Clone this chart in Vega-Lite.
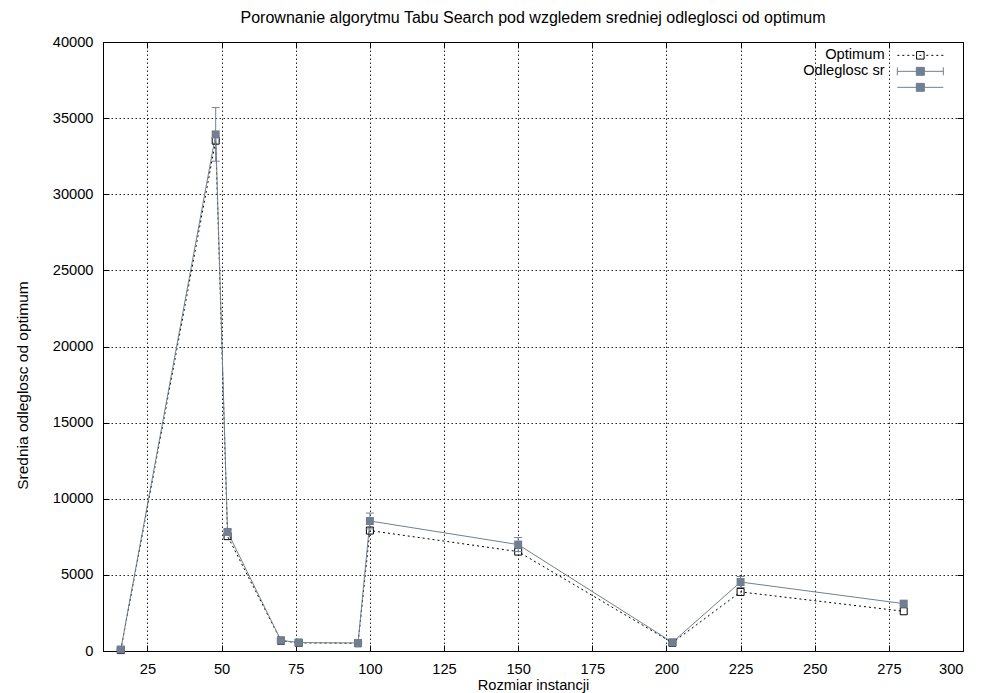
{
  "$schema": "https://vega.github.io/schema/vega-lite/v6.json",
  "width": 860,
  "height": 609,
  "autosize": {"type": "none"},
  "padding": {"left": 103, "top": 42, "right": 18, "bottom": 42},
  "background": "white",
  "title": {
    "text": "Porownanie algorytmu Tabu Search pod wzgledem sredniej odleglosci od optimum",
    "font": "Liberation Sans",
    "fontSize": 16,
    "fontWeight": "normal",
    "color": "black",
    "anchor": "middle",
    "frame": "group",
    "baseline": "alphabetic",
    "offset": -5
  },
  "config": {
    "view": {"stroke": "black", "strokeWidth": 1},
    "font": "Liberation Sans",
    "axis": {
      "labelFont": "Liberation Sans",
      "labelFontSize": 14.67,
      "labelColor": "black",
      "titleFont": "Liberation Sans",
      "titleFontSize": 14.67,
      "titleFontWeight": "normal",
      "titleColor": "black",
      "domain": false,
      "tickColor": "black",
      "tickSize": -6,
      "gridColor": "black",
      "gridDash": [1.5, 2.5],
      "gridOpacity": 0.85
    },
    "legend": {
      "orient": "none",
      "legendX": 806,
      "legendY": 2,
      "labelFont": "Liberation Sans",
      "labelFontSize": 14.67,
      "labelColor": "black",
      "labelAlign": "right",
      "labelOffset": -43,
      "symbolSize": 100,
      "symbolStrokeWidth": 1,
      "rowPadding": 0,
      "padding": 4,
      "fillColor": "white"
    }
  },
  "datasets": {
    "d": [
      {"n": 16, "series": "Optimum", "v": 60},
      {"n": 48, "series": "Optimum", "v": 33520},
      {"n": 52, "series": "Optimum", "v": 7545},
      {"n": 70, "series": "Optimum", "v": 675},
      {"n": 76, "series": "Optimum", "v": 538},
      {"n": 96, "series": "Optimum", "v": 510},
      {"n": 100, "series": "Optimum", "v": 7910},
      {"n": 150, "series": "Optimum", "v": 6528},
      {"n": 202, "series": "Optimum", "v": 540},
      {"n": 225, "series": "Optimum", "v": 3880},
      {"n": 280, "series": "Optimum", "v": 2610},
      {"n": 16, "series": "Odleglosc sr", "v": 100, "lo": 80, "hi": 120},
      {"n": 48, "series": "Odleglosc sr", "v": 33930, "lo": 32170, "hi": 35690},
      {"n": 52, "series": "Odleglosc sr", "v": 7820, "lo": 7650, "hi": 7990},
      {"n": 70, "series": "Odleglosc sr", "v": 703, "lo": 660, "hi": 745},
      {"n": 76, "series": "Odleglosc sr", "v": 551, "lo": 520, "hi": 580},
      {"n": 96, "series": "Odleglosc sr", "v": 525, "lo": 495, "hi": 555},
      {"n": 100, "series": "Odleglosc sr", "v": 8540, "lo": 8020, "hi": 9060},
      {"n": 150, "series": "Odleglosc sr", "v": 6990, "lo": 6530, "hi": 7450},
      {"n": 202, "series": "Odleglosc sr", "v": 571, "lo": 530, "hi": 610},
      {"n": 225, "series": "Odleglosc sr", "v": 4530, "lo": 4170, "hi": 4890},
      {"n": 280, "series": "Odleglosc sr", "v": 3110, "lo": 2990, "hi": 3230}
    ]
  },
  "data": {"name": "d"},
  "resolve": {"axis": {"x": "independent", "y": "independent"}},
  "layer": [
    {
      "transform": [{"filter": "datum.series === 'Optimum'"}],
      "mark": {"type": "line", "strokeWidth": 1, "color": "#000000", "strokeDash": [2, 3]},
      "encoding": {
        "x": {
          "field": "n", "type": "quantitative",
          "scale": {"domain": [10, 300], "nice": false, "zero": false},
          "axis": {
            "orient": "bottom",
            "values": [25, 50, 75, 100, 125, 150, 175, 200, 225, 250, 275, 300],
            "title": "Rozmiar instancji",
            "grid": true,
            "labelPadding": 16,
            "titlePadding": 2
          }
        },
        "y": {
          "field": "v", "type": "quantitative",
          "scale": {"domain": [0, 40000], "nice": false},
          "axis": {
            "orient": "left",
            "values": [0, 5000, 10000, 15000, 20000, 25000, 30000, 35000, 40000],
            "format": "d",
            "title": "Srednia odleglosc od optimum",
            "titleFontSize": 15.5,
            "titleY": 343,
            "grid": true,
            "labelPadding": 16,
            "titlePadding": 22
          }
        }
      }
    },
    {
      "transform": [{"filter": "datum.series === 'Odleglosc sr'"}],
      "mark": {"type": "line", "strokeWidth": 1, "color": "#708090"},
      "encoding": {
        "x": {"field": "n", "type": "quantitative", "scale": {"domain": [10, 300], "nice": false, "zero": false}, "axis": null},
        "y": {"field": "v", "type": "quantitative", "scale": {"domain": [0, 40000], "nice": false}, "axis": null}
      }
    },
    {
      "transform": [{"filter": "datum.series === 'Optimum'"}],
      "mark": {"type": "point", "shape": "square", "size": 49, "filled": false, "stroke": "#000000", "strokeWidth": 1, "opacity": 1},
      "encoding": {
        "x": {"field": "n", "type": "quantitative", "scale": {"domain": [10, 300], "nice": false, "zero": false}, "axis": null},
        "y": {"field": "v", "type": "quantitative", "scale": {"domain": [0, 40000], "nice": false}, "axis": null}
      }
    },
    {
      "transform": [{"filter": "datum.series === 'Odleglosc sr'"}],
      "mark": {"type": "rule", "color": "#708090", "strokeWidth": 1},
      "encoding": {
        "x": {
          "field": "n", "type": "quantitative",
          "scale": {"domain": [10, 300], "nice": false, "zero": false},
          "axis": {"orient": "top", "values": [25, 50, 75, 100, 125, 150, 175, 200, 225, 250, 275, 300], "labels": false, "grid": false, "title": null}
        },
        "y": {
          "field": "lo", "type": "quantitative",
          "scale": {"domain": [0, 40000], "nice": false},
          "axis": {"orient": "right", "values": [0, 5000, 10000, 15000, 20000, 25000, 30000, 35000, 40000], "labels": false, "grid": false, "title": null}
        },
        "y2": {"field": "hi"}
      }
    },
    {
      "transform": [{"filter": "datum.series === 'Odleglosc sr'"}],
      "mark": {"type": "tick", "orient": "horizontal", "color": "#708090", "size": 8, "thickness": 1, "opacity": 1},
      "encoding": {
        "x": {"field": "n", "type": "quantitative", "scale": {"domain": [10, 300], "nice": false, "zero": false}, "axis": null},
        "y": {"field": "hi", "type": "quantitative", "scale": {"domain": [0, 40000], "nice": false}, "axis": null}
      }
    },
    {
      "transform": [{"filter": "datum.series === 'Odleglosc sr'"}],
      "mark": {"type": "tick", "orient": "horizontal", "color": "#708090", "size": 8, "thickness": 1, "opacity": 1},
      "encoding": {
        "x": {"field": "n", "type": "quantitative", "scale": {"domain": [10, 300], "nice": false, "zero": false}, "axis": null},
        "y": {"field": "lo", "type": "quantitative", "scale": {"domain": [0, 40000], "nice": false}, "axis": null}
      }
    },
    {
      "transform": [{"filter": "datum.series === 'Odleglosc sr'"}],
      "mark": {"type": "point", "shape": "square", "size": 64, "filled": true, "color": "#708090", "opacity": 1},
      "encoding": {
        "x": {"field": "n", "type": "quantitative", "scale": {"domain": [10, 300], "nice": false, "zero": false}, "axis": null},
        "y": {"field": "v", "type": "quantitative", "scale": {"domain": [0, 40000], "nice": false}, "axis": null}
      }
    },
    {
      "transform": [{"filter": "false"}],
      "mark": {"type": "point", "opacity": 1, "strokeWidth": 1},
      "encoding": {
        "x": {"field": "n", "type": "quantitative", "scale": {"domain": [10, 300], "nice": false, "zero": false}, "axis": null},
        "y": {"field": "v", "type": "quantitative", "scale": {"domain": [0, 40000], "nice": false}, "axis": null},
        "shape": {
          "field": "series", "type": "nominal",
          "scale": {
            "domain": ["Optimum", "Odleglosc sr", " "],
            "range": [
              "M-4.6,0H-4.2M-3.6,0H-3.2M-2.6,0H-2.2M-1.6,0H-1.2M1.2,0H1.6M2.2,0H2.6M3.2,0H3.6M4.2,0H4.6M-0.2,0H0.2M-0.75,-0.75H0.75V0.75H-0.75Z",
              "M-4.6,0H4.6M-4.6,-0.8V0.8M4.6,-0.8V0.8M-0.8,-0.8H0.8V0.8H-0.8Z",
              "M-4.6,0H4.6M-0.8,-0.8H0.8V0.8H-0.8Z"
            ]
          },
          "legend": {"title": null}
        },
        "fill": {
          "field": "series", "type": "nominal",
          "scale": {"domain": ["Optimum", "Odleglosc sr", " "], "range": ["#ffffff", "#708090", "#708090"]},
          "legend": {"title": null}
        },
        "stroke": {
          "field": "series", "type": "nominal",
          "scale": {"domain": ["Optimum", "Odleglosc sr", " "], "range": ["#000000", "#708090", "#708090"]},
          "legend": {"title": null}
        }
      }
    }
  ]
}
